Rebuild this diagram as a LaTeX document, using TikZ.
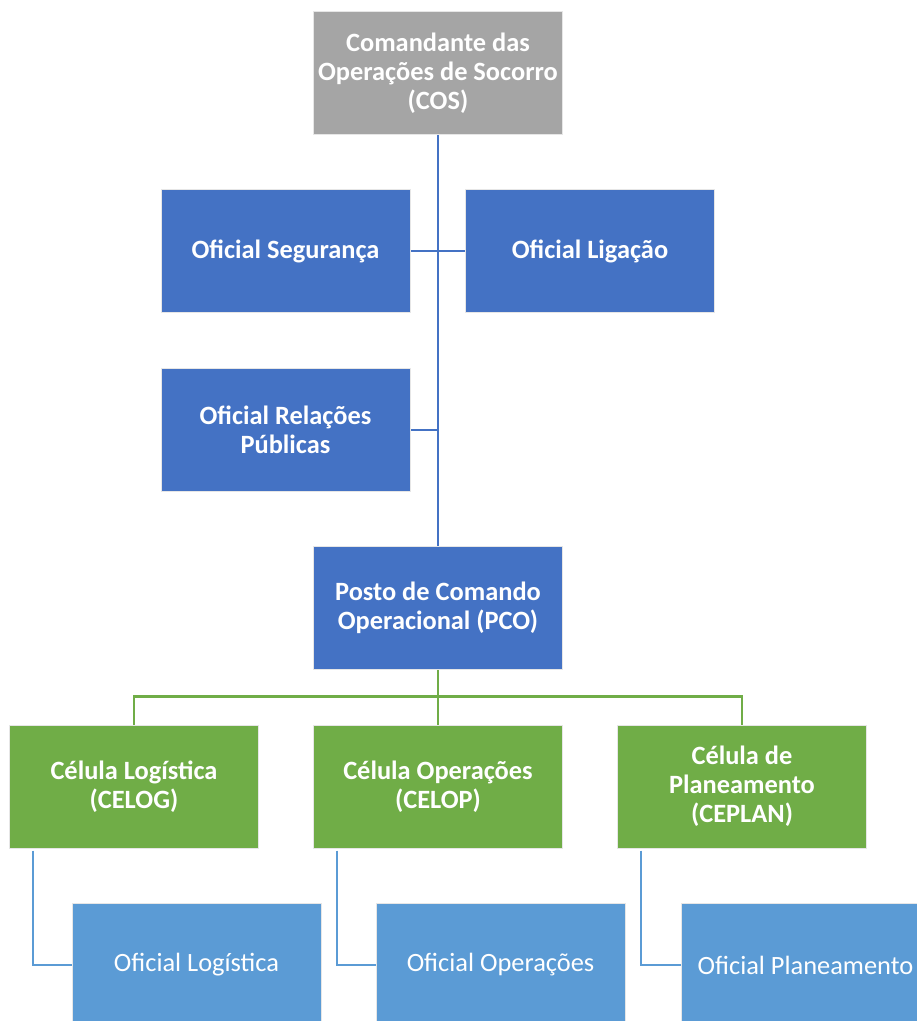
\documentclass[tikz,border=0pt]{standalone}
\usepackage{fontspec}
\setmainfont{Carlito}
\definecolor{cgray}{HTML}{A5A5A5}
\definecolor{cblue}{HTML}{4472C4}
\definecolor{cgreen}{HTML}{70AD47}
\definecolor{clight}{HTML}{5B9BD5}
\definecolor{cedge}{HTML}{E6E6E6}
\begin{document}
\begin{tikzpicture}[x=0.75pt,y=-0.75pt,
  box/.style={rectangle,draw=cedge,line width=0.75pt,text=white,align=center,
    minimum width=186.75pt,minimum height=92.25pt,inner sep=0pt,
    font=\fontsize{19.8}{21.75}\selectfont\bfseries},
  greybox/.style={box,fill=cgray},
  bluebox/.style={box,fill=cblue},
  greenbox/.style={box,fill=cgreen},
  lightbox/.style={box,fill=clight,font=\fontsize{19.8}{21.75}\selectfont},
  bline/.style={draw=cblue,line width=1.8pt},
  gline/.style={draw=cgreen,line width=1.8pt},
  lline/.style={draw=clight,line width=1.8pt}]
\useasboundingbox (0,0) rectangle (917,1021);
\clip (0,0) rectangle (917,1021);
\fill[white] (0,0) rectangle (917,1021);
% connectors first
\coordinate (top) at (438,134);
\coordinate (bot) at (438,547);
\draw[bline] (top) -- (bot);
\coordinate (segE) at (411,251);
\coordinate (ligW) at (465,251);
\draw[bline] (segE) -- (ligW);
\coordinate (rpE) at (411,430);
\coordinate (rpJ) at (438,430);
\draw[bline] (rpE) -- (rpJ);
% nodes
\node[greybox] (cos) at (438,73) {Comandante das\\Operações de Socorro\\(COS)};
\node[bluebox] (seg) at (285.5,251) {Oficial Segurança};
\node[bluebox] (lig) at (590,251) {Oficial Ligação};
\node[bluebox] (rp) at (285.5,430) {Oficial Relações\\Públicas};
\node[bluebox] (pco) at (438,608) {Posto de Comando\\Operacional (PCO)};
\node[greenbox] (celog) at (134,786.5) {Célula Logística\\(CELOG)};
\node[greenbox] (celop) at (438,786.5) {Célula Operações\\(CELOP)};
\node[greenbox] (ceplan) at (742,786.5) {Célula de\\Planeamento\\(CEPLAN)};
\node[lightbox] (ol) at (196.5,965) {Oficial Logística};
\node[lightbox] (oo) at (500.5,965) {Oficial Operações};
\node[lightbox] (op) at (805.5,965) {Oficial Planeamento};
% green
\draw[gline] (pco.south) -- (celop.north);
\draw[gline] (celog.north) -- ++(0,-28) -| (ceplan.north);
% light blue
\draw[lline] ([xshift=18pt,yshift=-1.5pt]celog.south west) |- (ol.west);
\draw[lline] ([xshift=18pt,yshift=-1.5pt]celop.south west) |- (oo.west);
\draw[lline] ([xshift=18pt,yshift=-1.5pt]ceplan.south west) |- (op.west);
\end{tikzpicture}
\end{document}
